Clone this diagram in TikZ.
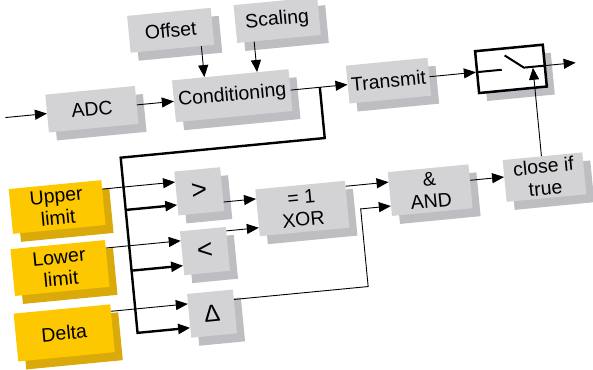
\documentclass[tikz,border=0pt]{standalone}
\usepackage{fontspec}
\setmainfont{Liberation Sans}
\usetikzlibrary{arrows.meta,shadows}

\definecolor{boxgray}{RGB}{211,211,213}
\definecolor{shadegray}{RGB}{189,190,194}
\definecolor{limityellow}{RGB}{253,200,0}
\definecolor{limitshade}{RGB}{218,170,10}

\tikzset{
  boxshadow/.style={drop shadow={shadow xshift=8pt,shadow yshift=-8pt,fill=#1,opacity=1}},
  blk/.style={fill=boxgray,boxshadow=shadegray,inner sep=0pt,align=center,font=\fontsize{19.5}{22}\selectfont},
  limit/.style={fill=limityellow,boxshadow=limitshade,inner sep=0pt,align=center,font=\fontsize{19.5}{22}\selectfont},
  sym/.style={blk,minimum width=46pt,minimum height=44pt,font=\fontsize{27}{27}\selectfont},
  arr/.style={line width=0.9pt,-{Triangle[length=12pt,width=10pt]}},
  bus/.style={line width=2.4pt},
  busarr/.style={bus,-{Triangle[length=12pt,width=10pt]}}
}

\begin{document}
\begin{tikzpicture}[x=1pt,y=1pt]
\useasboundingbox (0,0) rectangle (593,369);
\begin{scope}[shift={(296,185)},rotate=5.5,transform shape]
\node[blk,minimum width=90pt,minimum height=38pt] (adc) at (-196,94) {ADC};
\node[blk,minimum width=117pt,minimum height=42pt] (cond) at (-55,94) {Conditioning};
\node[blk,minimum width=84pt,minimum height=37pt] (offset) at (-110,165) {Offset};
\node[blk,minimum width=84pt,minimum height=38pt] (scaling) at (-3,165) {Scaling};
\node[blk,minimum width=82pt,minimum height=38pt] (trans) at (102,94) {Transmit};
\node[draw,line width=2.5pt,fill=white,boxshadow=shadegray,minimum width=68pt,minimum height=42pt] (switch) at (225,94) {};
\node[blk,minimum width=80pt,minimum height=42pt] (close) at (248,-17) {close if\\true};
\node[blk,minimum width=81pt,minimum height=44pt] (and) at (133,-19) {\&\\AND};
\node[blk,minimum width=90pt,minimum height=47pt] (xor) at (4,-25) {= 1\\XOR};
\node[sym] (gt) at (-97,2) {>};
\node[sym] (lt) at (-97,-58) {<};
\node[sym,font=\fontsize{24}{24}\selectfont] (dl) at (-96,-121) {Δ};
\node[limit,minimum width=93pt,minimum height=45pt] (upper) at (-240,0) {Upper\\limit};
\node[limit,minimum width=95pt,minimum height=47pt] (lower) at (-243,-61) {Lower\\limit};
\node[limit,minimum width=97pt,minimum height=48pt] (delta) at (-245,-126) {Delta};

\coordinate (in) at (-283,94);
\coordinate (out) at (290,94);
\coordinate (jn) at (33,94);
\coordinate (busl) at (-172,43);
\coordinate (busb) at (-172,-133);
\coordinate (dturn) at (62,-109);
\path (gt.west) ++(0,11.5) coordinate (gt1) ++(0,-23) coordinate (gt2);
\path (lt.west) ++(0,12.5) coordinate (lt1) ++(0,-25) coordinate (lt2);
\path (dl.west) ++(0,12) coordinate (dl1) ++(0,-24) coordinate (dl2);
\path (xor.west) ++(0,14) coordinate (xor1) ++(0,-29) coordinate (xor2);
\path (and.west) ++(0,12) coordinate (and1) ++(0,-24) coordinate (and2);
\coordinate (close1) at ([yshift=4pt]close.west);
\coordinate (contact) at ([xshift=22pt]switch.center);

\draw[arr] (in) -- (adc);
\draw[arr] (adc) -- (cond);
\draw[arr] ([xshift=29pt]offset.south) -- ([xshift=29pt]offset.south |- cond.north);
\draw[arr] ([xshift=-25pt]scaling.south) -- ([xshift=-25pt]scaling.south |- cond.north);
\draw[arr] (cond) -- (trans);
\draw[arr] (trans) -- (switch);
\draw[arr] (switch) -- (out);

\draw[line width=2pt] (switch.west) -- ++(26,0);
\draw[line width=2pt] ([shift={(-5,14)}]switch.center) -- ([xshift=13pt]switch.center) -- (switch.east);

\draw[busarr] (jn) |- (busl) -- (busb) -- (dl2);
\draw[busarr] (busl |- gt2) -- (gt2);
\draw[busarr] (busl |- lt2) -- (lt2);

\draw[arr] (upper.east |- gt1) -- (gt1);
\draw[arr] (lower.east |- lt1) -- (lt1);
\draw[arr] (delta.east |- dl1) -- (dl1);

\draw[arr] (gt.east |- xor1) -- (xor1);
\draw[arr] (lt.east |- xor2) -- (xor2);
\draw[arr] (dl.east |- dl1) -- (dturn) |- (and2);
\draw[arr] (xor.east |- and1) -- (and1);
\draw[arr] (and.east |- close1) -- (close1);
\draw[arr,shorten >=1pt] (close.north -| contact) -- (contact);
\end{scope}
\end{tikzpicture}
\end{document}
